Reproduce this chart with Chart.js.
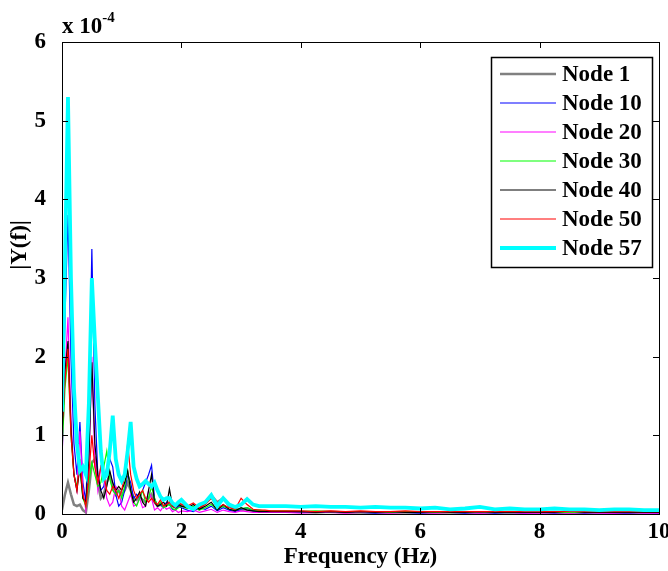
<!DOCTYPE html>
<html>
<head>
<meta charset="utf-8">
<script src="https://cdn.jsdelivr.net/npm/chart.js@4.4.1/dist/chart.umd.min.js"></script>
<style>
  html, body { margin: 0; padding: 0; background: #fff; }
  #wrap { width: 668px; height: 571px; }
</style>
</head>
<body>
<div id="wrap"><canvas id="chartFFT" width="668" height="571"></canvas></div>
<script>
// frequency grid (Hz): fine below 2 Hz, coarser above
const freqs = [
  0, 0.05, 0.1, 0.15, 0.2, 0.25, 0.3, 0.35, 0.4, 0.45, 0.5, 0.55, 0.6, 0.65, 0.7, 0.75, 0.8, 0.85, 0.9, 0.95,
  1.0, 1.05, 1.1, 1.15, 1.2, 1.25, 1.3, 1.35, 1.4, 1.45, 1.5, 1.55, 1.6, 1.65, 1.7, 1.75, 1.8, 1.85, 1.9, 1.95, 2.0,
  2.1, 2.2, 2.3, 2.4, 2.5, 2.6, 2.7, 2.8, 2.9, 3.0, 3.1, 3.2, 3.3, 3.4, 3.5,
  3.75, 4, 4.25, 4.5, 4.75, 5, 5.25, 5.5, 5.75, 6, 6.25, 6.5, 6.75, 7, 7.25, 7.5, 7.75, 8, 8.25, 8.5, 8.75, 9, 9.25, 9.5, 9.75, 10
];

// |Y(f)| in units of 1e-4
const node1 = [
  0.05, 0.25, 0.4, 0.25, 0.12, 0.1, 0.12, 0.05, 0.02, 0.3, 0.65, 0.7, 0.4, 0.2, 0.25, 0.4, 0.5, 0.35, 0.25, 0.3,
  0.25, 0.3, 0.4, 0.3, 0.2, 0.18, 0.22, 0.18, 0.15, 0.2, 0.25, 0.15, 0.1, 0.12, 0.1, 0.12, 0.15, 0.1, 0.08, 0.1, 0.12,
  0.1, 0.08, 0.06, 0.15, 0.24, 0.15, 0.2, 0.1, 0.06, 0.05, 0.06, 0.04, 0.04, 0.03, 0.03,
  0.03, 0.03, 0.02, 0.03, 0.02, 0.02, 0.02, 0.02, 0.02, 0.02, 0.02, 0.02, 0.02, 0.02, 0.02, 0.02, 0.02, 0.02, 0.02, 0.02, 0.02, 0.02, 0.02, 0.02, 0.02, 0.02
];
const node10 = [
  0.6, 2.5, 3.8, 2.0, 0.9, 0.5, 1.17, 0.4, 0.15, 1.2, 3.37, 1.4, 0.5, 0.3, 0.35, 0.6, 0.7, 0.6, 0.25, 0.1,
  0.15, 0.3, 0.5, 0.4, 0.2, 0.25, 0.2, 0.3, 0.4, 0.5, 0.62, 0.2, 0.1, 0.12, 0.08, 0.15, 0.12, 0.06, 0.05, 0.1, 0.08,
  0.05, 0.03, 0.08, 0.06, 0.1, 0.04, 0.08, 0.05, 0.03, 0.06, 0.08, 0.04, 0.03, 0.03, 0.02,
  0.02, 0.02, 0.03, 0.02, 0.02, 0.02, 0.01, 0.02, 0.02, 0.01, 0.02, 0.02, 0.01, 0.02, 0.01, 0.02, 0.01, 0.02, 0.01, 0.02, 0.01, 0.02, 0.01, 0.01, 0.02, 0.01
];
const node20 = [
  0.7, 1.8, 2.5, 1.2, 0.5, 0.3, 1.05, 0.3, 0.05, 0.6, 2.0, 0.7, 0.3, 0.6, 0.5, 0.2, 0.1, 0.15, 0.35, 0.3,
  0.1, 0.05, 0.15, 0.25, 0.1, 0.12, 0.2, 0.08, 0.1, 0.3, 0.2, 0.05, 0.08, 0.04, 0.1, 0.06, 0.08, 0.03, 0.05, 0.02, 0.04,
  0.03, 0.05, 0.02, 0.04, 0.06, 0.02, 0.05, 0.03, 0.02, 0.04, 0.03, 0.02, 0.02, 0.02, 0.02,
  0.02, 0.01, 0.02, 0.02, 0.01, 0.02, 0.02, 0.01, 0.02, 0.02, 0.01, 0.02, 0.02, 0.01, 0.02, 0.02, 0.01, 0.01, 0.02, 0.01, 0.02, 0.01, 0.01, 0.02, 0.01, 0.01
];
const node30 = [
  0.8, 1.6, 2.0, 1.0, 0.5, 0.35, 0.6, 0.2, 0.1, 0.4, 0.65, 0.5, 0.35, 0.4, 0.6, 0.8, 0.45, 0.3, 0.25, 0.3,
  0.2, 0.35, 0.55, 0.3, 0.15, 0.1, 0.2, 0.3, 0.15, 0.2, 0.35, 0.2, 0.1, 0.15, 0.08, 0.1, 0.12, 0.07, 0.05, 0.08, 0.1,
  0.07, 0.1, 0.05, 0.08, 0.12, 0.06, 0.1, 0.06, 0.05, 0.07, 0.08, 0.05, 0.05, 0.04, 0.04,
  0.04, 0.03, 0.04, 0.03, 0.03, 0.03, 0.03, 0.02, 0.03, 0.03, 0.02, 0.03, 0.02, 0.03, 0.02, 0.02, 0.02, 0.03, 0.02, 0.02, 0.02, 0.02, 0.02, 0.02, 0.02, 0.02
];
const node40 = [
  1.0, 1.8, 2.2, 1.1, 0.5, 0.3, 0.6, 0.2, 0.15, 0.7, 1.93, 0.9, 0.5, 0.3, 0.2, 0.35, 0.55, 0.4, 0.3, 0.35,
  0.3, 0.4, 0.55, 0.3, 0.15, 0.2, 0.28, 0.15, 0.1, 0.3, 0.5, 0.15, 0.1, 0.12, 0.15, 0.1, 0.32, 0.1, 0.08, 0.12, 0.1,
  0.08, 0.12, 0.06, 0.1, 0.15, 0.05, 0.12, 0.06, 0.04, 0.08, 0.05, 0.04, 0.03, 0.03, 0.03,
  0.03, 0.03, 0.02, 0.03, 0.02, 0.03, 0.02, 0.03, 0.02, 0.02, 0.03, 0.02, 0.02, 0.03, 0.02, 0.02, 0.02, 0.02, 0.02, 0.04, 0.02, 0.02, 0.02, 0.02, 0.02, 0.02
];
const node50 = [
  1.1, 1.7, 2.1, 1.0, 0.5, 0.3, 0.7, 0.25, 0.1, 0.5, 1.0, 0.6, 0.4, 0.6, 0.5, 0.3, 0.25, 0.35, 0.3, 0.2,
  0.3, 0.5, 0.9, 0.5, 0.3, 0.2, 0.25, 0.3, 0.2, 0.15, 0.2, 0.15, 0.12, 0.18, 0.1, 0.12, 0.15, 0.1, 0.08, 0.15, 0.12,
  0.1, 0.14, 0.08, 0.12, 0.2, 0.08, 0.12, 0.08, 0.06, 0.2, 0.12, 0.06, 0.05, 0.05, 0.04,
  0.04, 0.04, 0.03, 0.04, 0.03, 0.04, 0.03, 0.03, 0.04, 0.03, 0.03, 0.03, 0.03, 0.03, 0.03, 0.03, 0.03, 0.03, 0.03, 0.03, 0.03, 0.03, 0.03, 0.03, 0.03, 0.03
];
const node57 = [
  1.3, 3.2, 5.3, 3.0, 1.6, 0.9, 0.55, 0.6, 0.5, 1.4, 3.0, 2.2, 1.5, 0.8, 0.45, 0.5, 0.8, 1.25, 0.7, 0.5,
  0.42, 0.5, 0.8, 1.17, 0.6, 0.45, 0.35, 0.38, 0.42, 0.38, 0.35, 0.4, 0.3, 0.22, 0.18, 0.2, 0.2, 0.14, 0.11, 0.15, 0.18,
  0.1, 0.06, 0.12, 0.15, 0.24, 0.1, 0.2, 0.12, 0.09, 0.12, 0.19, 0.12, 0.1, 0.1, 0.1,
  0.1, 0.09, 0.1, 0.09, 0.09, 0.08, 0.09, 0.08, 0.08, 0.07, 0.08, 0.06, 0.07, 0.09, 0.06, 0.07, 0.06, 0.06, 0.07, 0.06, 0.06, 0.05, 0.06, 0.06, 0.05, 0.05
];

const seriesNames = ['Node 1', 'Node 10', 'Node 20', 'Node 30', 'Node 40', 'Node 50', 'Node 57'];
const seriesValues = [node1, node10, node20, node30, node40, node50, node57];
const seriesColors = ['#808080', '#0000ff', '#ff00ff', '#00ff00', '#000000', '#ff0000', '#00ffff'];
const seriesWidths = [2.5, 1.2, 1.2, 1.2, 1.2, 1.2, 3.8];
const xTicks = [0, 2, 4, 6, 8, 10];
const yTicks = [0, 1, 2, 3, 4, 5, 6];

const FONT = "'Liberation Serif', 'Times New Roman', serif";

// matlab style box, inward ticks, exponent label, y label and legend
const matlabFrame = {
    id: 'matlabFrame',
    afterDraw(chart) {
        const ctx = chart.ctx;
        const a = chart.chartArea;
        const xs = chart.scales.x, ys = chart.scales.y;
        ctx.save();
        ctx.strokeStyle = '#000';
        ctx.lineWidth = 1;
        ctx.strokeRect(Math.round(a.left) + 0.5, Math.round(a.top) + 0.5, Math.round(a.width), Math.round(a.height));
        ctx.beginPath();
        xTicks.forEach(v => {
            const px = Math.round(xs.getPixelForValue(v)) + 0.5;
            ctx.moveTo(px, a.bottom); ctx.lineTo(px, a.bottom - 6);
            ctx.moveTo(px, a.top); ctx.lineTo(px, a.top + 6);
        });
        yTicks.forEach(v => {
            const py = Math.round(ys.getPixelForValue(v)) + 0.5;
            ctx.moveTo(a.left, py); ctx.lineTo(a.left + 6, py);
            ctx.moveTo(a.right, py); ctx.lineTo(a.right - 6, py);
        });
        ctx.stroke();

        // x 10^-4
        ctx.fillStyle = '#000';
        ctx.textBaseline = 'alphabetic';
        ctx.textAlign = 'left';
        ctx.font = "bold 23px " + FONT;
        ctx.fillText('x 10', a.left, a.top - 9);
        const w = ctx.measureText('x 10').width;
        ctx.font = "bold 15px " + FONT;
        ctx.fillText('-4', a.left + w, a.top - 20);

        // y label
        ctx.save();
        ctx.translate(20, 245);
        ctx.rotate(-Math.PI / 2);
        ctx.font = "bold 23px " + FONT;
        ctx.textAlign = 'center';
        ctx.textBaseline = 'middle';
        ctx.fillText('|Y(f)|', 0, 0);
        ctx.restore();

        // legend
        const bx = a.right - 168, by = a.top + 15, bw = 161, bh = 210;
        ctx.fillStyle = '#fff';
        ctx.fillRect(bx, by, bw, bh);
        ctx.strokeStyle = '#000';
        ctx.lineWidth = 1.5;
        ctx.strokeRect(bx + 0.5, by + 0.5, bw, bh);
        ctx.font = "bold 23px " + FONT;
        ctx.textAlign = 'left';
        ctx.textBaseline = 'middle';
        chart.data.datasets.forEach((ds, i) => {
            const cy = by + 17 + i * 29;
            ctx.strokeStyle = ds.borderColor;
            ctx.lineWidth = ds.borderWidth;
            ctx.beginPath();
            ctx.moveTo(bx + 9, cy); ctx.lineTo(bx + 65, cy);
            ctx.stroke();
            ctx.fillStyle = '#000';
            ctx.fillText(ds.label, bx + 71, cy + 1);
        });
        ctx.restore();
    }
};

const datasets = seriesNames.map((name, i) => ({
    label: name,
    data: freqs.map((f, k) => ({ x: f, y: seriesValues[i][k] })),
    borderColor: seriesColors[i],
    backgroundColor: seriesColors[i],
    borderWidth: seriesWidths[i],
    pointRadius: 0,
    tension: 0,
    fill: false,
    order: seriesNames.length - 1 - i
}));

const ctx = document.getElementById('chartFFT').getContext('2d');
new Chart(ctx, {
    type: 'line',
    data: { datasets: datasets },
    options: {
        responsive: false,
        animation: false,
        devicePixelRatio: 1,
        layout: { padding: { top: 42, right: 9, left: 0, bottom: 0 } },
        plugins: { legend: { display: false }, tooltip: { enabled: false } },
        scales: {
            x: {
                type: 'linear', min: 0, max: 10,
                afterBuildTicks: s => { s.ticks = xTicks.map(v => ({ value: v })); },
                afterFit: s => { s.height = 57; s.paddingLeft = 0; s.paddingRight = 0; },
                grid: { display: false },
                border: { display: false },
                ticks: { color: '#000', font: { family: FONT, size: 23, weight: 'bold' }, padding: -4, maxRotation: 0 },
                title: { display: true, text: 'Frequency (Hz)', color: '#000', font: { family: FONT, size: 23, weight: 'bold' }, padding: { top: 0, bottom: 0 } }
            },
            y: {
                min: 0, max: 6,
                afterBuildTicks: s => { s.ticks = yTicks.map(v => ({ value: v })); },
                afterFit: s => { s.width = 62; s.paddingTop = 0; s.paddingBottom = 0; },
                grid: { display: false },
                border: { display: false },
                ticks: { color: '#000', font: { family: FONT, size: 23, weight: 'bold' }, padding: 8 }
            }
        }
    },
    plugins: [matlabFrame]
});
</script>
</body>
</html>
